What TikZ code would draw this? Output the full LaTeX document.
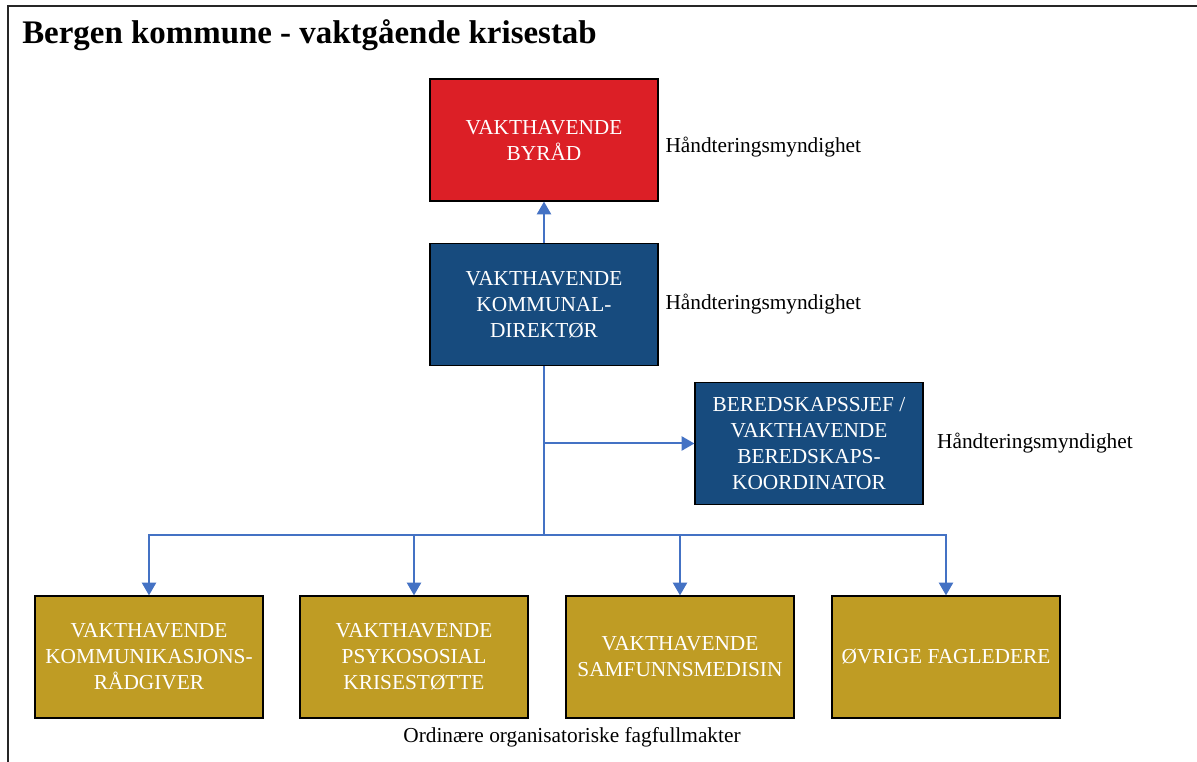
\documentclass[tikz,border=0pt]{standalone}
\usepackage{fontspec}
\setmainfont{Liberation Serif}
\usetikzlibrary{positioning}
\usetikzlibrary{calc}
\usetikzlibrary{arrows.meta}
\definecolor{byradred}{RGB}{220,31,38}
\definecolor{stabblue}{RGB}{23,75,126}
\definecolor{faggold}{RGB}{191,156,36}
\definecolor{linkblue}{RGB}{68,114,196}
\tikzset{unit/.style={draw=black, line width=0.9pt, minimum width=171pt, minimum height=91.5pt, inner sep=2pt, align=center, text=white, font=\fontsize{16}{19.5}\selectfont}}
\tikzset{lbl/.style={inner sep=0pt, font=\fontsize{16}{19.5}\selectfont}}
\tikzset{link/.style={draw=linkblue, line width=1.5pt}}
\tikzset{>={Triangle[width=10.5pt,length=9.5pt]}}

\begin{document}
\begin{tikzpicture}[x=0.75pt, y=-0.75pt]
\useasboundingbox (0,0) rectangle (1197,762);

%%% Frame and title:

\draw[line width=1.4pt, black!85] (8,762) -- (8,6) -- (1197,6);
\node[anchor=base west, inner sep=0pt, font=\bfseries\fontsize{24.7}{28}\selectfont] (title) at (22,44) {Bergen kommune - vaktgående krisestab};

%%% Top:

\node[unit, fill=byradred] (byrad) at (544,140) {VAKTHAVENDE\\BYRÅD};
\node[unit, fill=stabblue] (kdir) at (544,304.5) {VAKTHAVENDE\\KOMMUNAL-\\DIREKTØR};
\node[unit, fill=stabblue] (bered) at (809,443.5) {BEREDSKAPSSJEF /\\VAKTHAVENDE\\BEREDSKAPS-\\KOORDINATOR};

\node[lbl, anchor=west] (ha1) [right=5pt of byrad, yshift=-5pt] {Håndteringsmyndighet};
\node[lbl, anchor=west] (ha2) [right=5pt of kdir] {Håndteringsmyndighet};
\node[lbl, anchor=west] (ha3) [right=10pt of bered] {Håndteringsmyndighet};

\draw[link, ->] (kdir) -- (byrad);

%%% Bottom:

\node[unit, fill=faggold] (komm) at (149,657) {VAKTHAVENDE\\KOMMUNIKASJONS-\\RÅDGIVER};
\node[unit, fill=faggold] (psyk) at (414,657) {VAKTHAVENDE\\PSYKOSOSIAL\\KRISESTØTTE};
\node[unit, fill=faggold] (samf) at (680,657) {VAKTHAVENDE\\SAMFUNNSMEDISIN};
\node[unit, fill=faggold] (ovr) at (946,657) {ØVRIGE FAGLEDERE};

\node[lbl] (ordin) at (572,737) {Ordinære organisatoriske fagfullmakter};

\coordinate (split) at (kdir.south |- bered.west);
\coordinate (bus) at ($(kdir.south)+(0,169)$);

\draw[link] (kdir) -- (bus);
\draw[link, ->] (split) -- (bered);
\draw[link, ->] (bus) -| (komm);
\draw[link, ->] (bus) -| (psyk);
\draw[link, ->] (bus) -| (samf);
\draw[link, ->] (bus) -| (ovr);

\end{tikzpicture}
\end{document}
